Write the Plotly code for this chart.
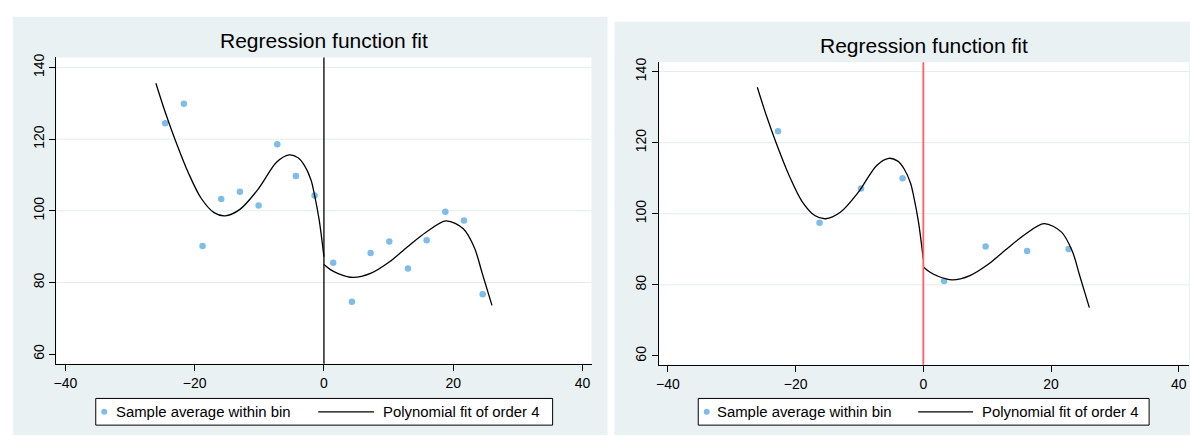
import plotly.graph_objects as go

# ---- data -------------------------------------------------------------
# Panel 1: 18 evenly spaced bins (9 per side of the cutoff)
bins1_x = [-24.56, -21.67, -18.78, -15.89, -13.0, -10.11, -7.22, -4.33, -1.44,
           1.44, 4.33, 7.22, 10.11, 13.0, 15.89, 18.78, 21.67, 24.56]
bins1_y = [124.4, 129.9, 90.2, 103.3, 105.3, 101.5, 118.6, 109.7, 104.3,
           85.5, 74.6, 88.2, 91.4, 83.9, 91.8, 99.7, 97.3, 76.7]

# Panel 2: 8 bins (4 per side)
bins2_x = [-22.75, -16.25, -9.75, -3.25, 3.25, 9.75, 16.25, 22.75]
bins2_y = [123.2, 97.5, 107.1, 110.0, 81.1, 90.8, 89.5, 90.1]

# Order-4 polynomial fit, left and right of the cutoff
fit_left_x = [-26, -24.5, -23, -21, -19, -17, -15.3, -13, -10.2, -7.3, -5.4,
              -4, -3, -2, -1.5, -0.75, 0]
fit_left_y = [135.6, 127.2, 119.7, 110.7, 103.5, 99.5, 98.6, 100.4, 106.0,
              113.6, 115.6, 114.8, 112.6, 108.6, 104.8, 97.6, 87.2]
fit_right_x = [0, 1, 2.2, 4.5, 7.3, 10.1, 12.9, 15.8, 18.9, 21.6, 23.3, 24.5, 26]
fit_right_y = [85.0, 83.6, 82.5, 81.4, 82.6, 85.7, 89.9, 94.0, 97.2, 94.9,
               89.6, 82.5, 73.6]

cutoff = 0
x_ticks = [-40, -20, 0, 20, 40]
y_ticks = [60, 80, 100, 120, 140]
title_text = "Regression function fit"
legend_labels = ["Sample average within bin", "Polynomial fit of order 4"]

# ---- styling ----------------------------------------------------------
W, H = 1190, 437
FONT = "Liberation Sans, Arial, Helvetica, sans-serif"
PANEL_BG = "#e9f1f3"
GRID = "#e3ecee"
DOT = "#7fbde8"
CUT_COLORS = ["#000000", "#ff5f5f"]


def fx(p):
    return p / W


def fy(p):
    return 1 - p / H


fig = go.Figure()

panels = [
    dict(xa="x", ya="y", bins_x=bins1_x, bins_y=bins1_y,
         dom_x=[fx(53.5), fx(590)], dom_y=[fy(363), fy(53)],
         xr=[-41.4, 41.4], yr=[57.3, 142.8],
         bg=[10, 12, 606, 435], title_xy=(322, 36),
         legend=dict(box=[93, 398, 551, 425], dot=101.5, t1=111,
                     line=[316, 372], t2=379),
         cut_color=CUT_COLORS[0], cut_width=1.3),
    dict(xa="x2", ya="y2", bins_x=bins2_x, bins_y=bins2_y,
         dom_x=[fx(657.6), fx(1189)], dom_y=[fy(364), fy(58)],
         xr=[-41.4, 41.6], yr=[57.5, 142.6],
         bg=[613, 17, 1190, 435], title_xy=(923.7, 40.5),
         legend=dict(box=[697, 398, 1149, 425], dot=705.5, t1=714,
                     line=[917.5, 972.5], t2=979),
         cut_color=CUT_COLORS[1], cut_width=1.8),
]

shapes = []
annotations = []

for i, p in enumerate(panels):
    # binned averages
    fig.add_trace(go.Scatter(
        x=p["bins_x"], y=p["bins_y"], mode="markers",
        marker=dict(color=DOT, size=6.5, line=dict(width=0)),
        xaxis=p["xa"], yaxis=p["ya"], showlegend=False, hoverinfo="x+y"))
    # polynomial fit, each side of the cutoff
    for fxs, fys in ((fit_left_x, fit_left_y), (fit_right_x, fit_right_y)):
        fig.add_trace(go.Scatter(
            x=fxs, y=fys, mode="lines",
            line=dict(color="black", width=1.3, shape="spline", smoothing=0.9),
            xaxis=p["xa"], yaxis=p["ya"], showlegend=False, hoverinfo="x+y"))

    ax_suffix = "" if i == 0 else "2"
    common_axis = dict(showline=True, linecolor="black", linewidth=1,
                       ticks="outside", ticklen=6, tickcolor="black", tickwidth=1,
                       tickfont=dict(family=FONT, size=14, color="black"),
                       showgrid=False, zeroline=False)
    fig.update_layout(**{
        "xaxis" + ax_suffix: dict(domain=p["dom_x"], range=p["xr"],
                                  tickvals=x_ticks, anchor="y" + ax_suffix,
                                  **common_axis),
        "yaxis" + ax_suffix: dict(domain=p["dom_y"], range=p["yr"],
                                  tickvals=y_ticks, tickangle=-90,
                                  anchor="x" + ax_suffix, **common_axis),
    })

    # panel background
    bx0, by0, bx1, by1 = p["bg"]
    shapes.append(dict(type="rect", xref="paper", yref="paper", layer="below",
                       x0=fx(bx0), x1=fx(bx1), y0=fy(by1), y1=fy(by0),
                       fillcolor=PANEL_BG, line=dict(width=0)))
    # white plotting region
    shapes.append(dict(type="rect", xref=p["xa"] + " domain",
                       yref=p["ya"] + " domain", layer="below",
                       x0=0, x1=1, y0=0, y1=1,
                       fillcolor="white", line=dict(width=0)))
    # horizontal gridlines (none on the lowest tick)
    for yv in y_ticks[1:]:
        shapes.append(dict(type="line", xref=p["xa"] + " domain", yref=p["ya"],
                           layer="below", x0=0, x1=1, y0=yv, y1=yv,
                           line=dict(color=GRID, width=1)))
    # cutoff line
    shapes.append(dict(type="line", xref=p["xa"], yref=p["ya"] + " domain",
                       x0=cutoff, x1=cutoff, y0=0, y1=1,
                       line=dict(color=p["cut_color"], width=p["cut_width"])))

    # title
    tx, ty = p["title_xy"]
    annotations.append(dict(text=title_text, xref="paper", yref="paper",
                            x=fx(tx), y=fy(ty), xanchor="center",
                            yanchor="middle", showarrow=False,
                            font=dict(family=FONT, size=21, color="black")))

    # legend box
    lg = p["legend"]
    lx0, ly0, lx1, ly1 = lg["box"]
    ymid = (ly0 + ly1) / 2
    shapes.append(dict(type="rect", xref="paper", yref="paper",
                       x0=fx(lx0), x1=fx(lx1), y0=fy(ly1), y1=fy(ly0),
                       fillcolor="white", line=dict(color="black", width=1)))
    r = 3
    shapes.append(dict(type="circle", xref="paper", yref="paper",
                       x0=fx(lg["dot"] - r), x1=fx(lg["dot"] + r),
                       y0=fy(ymid + r), y1=fy(ymid - r),
                       fillcolor=DOT, line=dict(width=0)))
    shapes.append(dict(type="line", xref="paper", yref="paper",
                       x0=fx(lg["line"][0]), x1=fx(lg["line"][1]),
                       y0=fy(ymid), y1=fy(ymid),
                       line=dict(color="black", width=1.3)))
    for txt, xpos in ((legend_labels[0], lg["t1"]), (legend_labels[1], lg["t2"])):
        annotations.append(dict(text=txt, xref="paper", yref="paper",
                                x=fx(xpos), y=fy(ymid), xanchor="left",
                                yanchor="middle", showarrow=False,
                                font=dict(family=FONT, size=14.9, color="black")))

fig.update_layout(
    width=W, height=H,
    margin=dict(l=0, r=0, t=0, b=0),
    paper_bgcolor="white",
    plot_bgcolor="white",
    showlegend=False,
    shapes=shapes,
    annotations=annotations,
    font=dict(family=FONT, color="black"),
)

fig.write_html("out.html")
